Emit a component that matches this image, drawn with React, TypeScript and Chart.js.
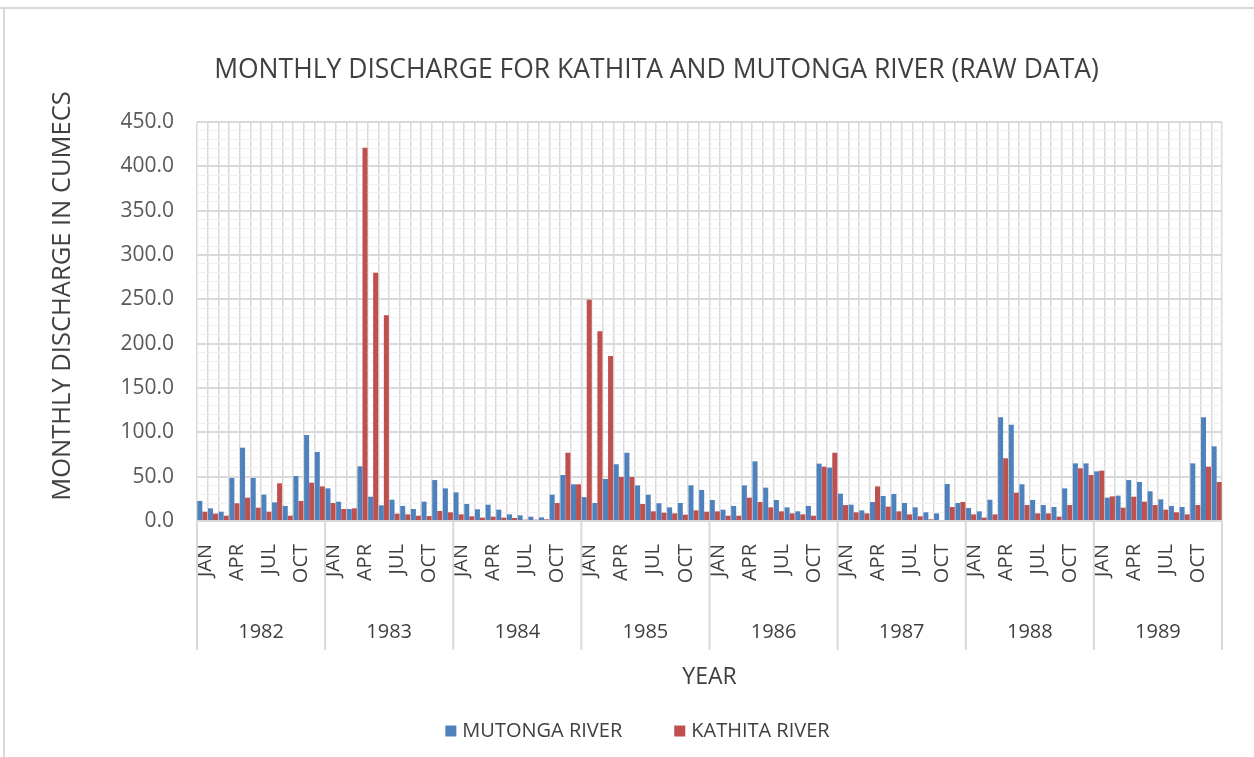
import { useEffect, useRef } from 'react';
import { Chart, registerables } from 'chart.js';

Chart.register(...registerables);

const TITLE = 'MONTHLY DISCHARGE FOR KATHITA AND MUTONGA RIVER (RAW DATA)';
const Y_TITLE = 'MONTHLY DISCHARGE IN CUMECS';
const X_TITLE = 'YEAR';
const YEARS = ['1982', '1983', '1984', '1985', '1986', '1987', '1988', '1989'];
const MONTHS = ['JAN', 'FEB', 'MAR', 'APR', 'MAY', 'JUN', 'JUL', 'AUG', 'SEP', 'OCT', 'NOV', 'DEC'];
const SHOWN_MONTHS = ['JAN', 'APR', 'JUL', 'OCT'];
const SERIES_NAMES = ['MUTONGA RIVER', 'KATHITA RIVER'];
const SERIES_COLORS = ['#4F81BD', '#C0504D'];

const MUTONGA = [
  22.6, 14.3, 10.5, 48.5, 82.7, 48.5, 29.7, 21.0, 17.0, 50.8, 97.0, 77.8,
  36.8, 21.8, 13.5, 61.7, 27.4, 17.7, 24.0, 17.0, 13.5, 21.8, 46.2, 36.8,
  32.3, 19.2, 13.2, 18.4, 12.8, 7.5, 6.4, 4.9, 4.1, 29.7, 51.9, 41.4,
  27.0, 20.3, 47.4, 64.0, 77.0, 40.2, 29.7, 20.0, 15.4, 20.3, 40.2, 35.0,
  23.7, 12.8, 17.0, 40.2, 67.3, 37.6, 23.7, 15.4, 10.9, 17.0, 64.7, 60.2,
  30.8, 18.4, 12.0, 21.4, 28.2, 30.5, 20.3, 15.4, 9.8, 8.6, 41.7, 20.3,
  14.7, 10.9, 24.0, 117.0, 108.6, 41.4, 23.7, 18.0, 15.8, 36.8, 65.0, 65.0,
  56.0, 26.3, 28.6, 46.2, 44.0, 33.5, 24.4, 17.0, 15.8, 65.0, 117.0, 84.2,
];

const KATHITA = [
  10.5, 8.3, 6.0, 20.0, 26.3, 15.0, 10.5, 42.5, 6.0, 22.6, 43.2, 39.0,
  20.3, 13.5, 14.3, 421.0, 280.0, 232.0, 8.3, 7.5, 6.0, 5.6, 11.3, 9.8,
  7.5, 5.3, 3.8, 4.9, 3.8, 3.4, 1.5, 1.5, 1.9, 20.3, 77.0, 41.4,
  249.5, 214.0, 186.0, 49.6, 49.6, 19.2, 10.9, 9.4, 8.6, 7.1, 12.0, 10.5,
  10.9, 6.0, 6.0, 26.3, 21.4, 15.4, 10.9, 8.6, 7.5, 6.0, 61.3, 77.0,
  18.0, 9.8, 8.6, 39.0, 16.2, 10.9, 7.5, 5.3, 1.9, 0.0, 15.8, 21.4,
  7.5, 3.8, 7.5, 70.7, 32.0, 18.0, 8.6, 8.6, 4.9, 18.0, 59.4, 51.9,
  56.8, 27.8, 15.0, 27.4, 21.8, 18.0, 12.8, 9.8, 7.5, 18.0, 61.3, 44.0,
];

const Y_MAX = 450;
const Y_MINOR_STEP = 10;
const Y_MAJOR_STEP = 50;

const FONT = "'Open Sans', sans-serif";
const TEXT_DARK = '#404040';
const TEXT = '#595959';
const GRID = '#d9d9d9';

const decorPlugin = {
  id: 'decor',
  beforeDraw(chart: any) {
    const { ctx, width, height } = chart;
    ctx.save();
    ctx.fillStyle = '#ffffff';
    ctx.fillRect(0, 0, width, height);
    ctx.strokeStyle = GRID;
    ctx.lineWidth = 2;
    ctx.beginPath();
    ctx.moveTo(0, 8);
    ctx.lineTo(width, 8);
    ctx.moveTo(4, 8);
    ctx.lineTo(4, height);
    ctx.stroke();
    ctx.restore();
  },
  afterDraw(chart: any) {
    const { ctx, chartArea } = chart;
    const xs = chart.scales.x;
    const half = (xs.getPixelForValue(1) - xs.getPixelForValue(0)) / 2;
    const base = chartArea.bottom;
    ctx.save();
    // chart title
    ctx.fillStyle = TEXT_DARK;
    ctx.font = `26.5px ${FONT}`;
    ctx.textAlign = 'center';
    ctx.textBaseline = 'middle';
    ctx.fillText(TITLE, 656.5, 70);
    // year separators
    ctx.strokeStyle = GRID;
    ctx.lineWidth = 2;
    ctx.beginPath();
    for (let k = 0; k <= YEARS.length; k++) {
      const x = k < YEARS.length
        ? xs.getPixelForValue(k * 12) - half
        : xs.getPixelForValue(YEARS.length * 12 - 1) + half;
      ctx.moveTo(x, base);
      ctx.lineTo(x, base + 129);
    }
    ctx.stroke();
    // year labels
    ctx.fillStyle = TEXT_DARK;
    ctx.font = `20px ${FONT}`;
    YEARS.forEach((yr, k) => {
      const cx = (xs.getPixelForValue(k * 12) + xs.getPixelForValue(k * 12 + 11)) / 2;
      ctx.fillText(yr, cx, base + 111);
    });
    // y axis title
    ctx.save();
    ctx.translate(63, 296);
    ctx.rotate(-Math.PI / 2);
    ctx.font = `25.5px ${FONT}`;
    ctx.fillStyle = TEXT_DARK;
    ctx.fillText(Y_TITLE, 0, 0);
    ctx.restore();
    // legend
    ctx.font = `20px ${FONT}`;
    ctx.textAlign = 'left';
    const box = 11;
    const gapText = 6;
    const gapItem = 52;
    const widths = SERIES_NAMES.map((n) => ctx.measureText(n).width);
    const total = widths.reduce((a, w) => a + box + gapText + w, 0) + gapItem * (SERIES_NAMES.length - 1);
    let x = 637.5 - total / 2;
    const ly = 731;
    SERIES_NAMES.forEach((n, i) => {
      ctx.fillStyle = SERIES_COLORS[i];
      ctx.fillRect(x, ly - box / 2, box, box);
      ctx.fillStyle = TEXT_DARK;
      ctx.fillText(n, x + box + gapText, ly);
      x += box + gapText + widths[i] + gapItem;
    });
    ctx.restore();
  },
};

export default function App() {
  const ref = useRef<HTMLCanvasElement | null>(null);

  useEffect(() => {
    document.body.style.margin = '0';
    const canvas = ref.current;
    if (!canvas) return;
    Chart.defaults.font.family = FONT;
    const labels = YEARS.flatMap(() => MONTHS);
    const chart = new Chart(canvas, {
      type: 'bar',
      data: {
        labels,
        datasets: [
          {
            label: SERIES_NAMES[0],
            data: MUTONGA,
            backgroundColor: SERIES_COLORS[0],
            categoryPercentage: 0.94,
            barPercentage: 1.0,
          },
          {
            label: SERIES_NAMES[1],
            data: KATHITA,
            backgroundColor: SERIES_COLORS[1],
            categoryPercentage: 0.94,
            barPercentage: 1.0,
          },
        ],
      },
      options: {
        animation: false,
        responsive: false,
        maintainAspectRatio: false,
        layout: { padding: { left: 0, right: 32, top: 122, bottom: 40 } },
        plugins: {
          legend: { display: false },
          tooltip: { enabled: false },
          title: { display: false },
        },
        scales: {
          x: {
            type: 'category',
            offset: true,
            grid: { display: true, color: GRID, lineWidth: 1.5, offset: true, drawTicks: false },
            border: { display: true, color: GRID, width: 2 },
            ticks: {
              autoSkip: false,
              minRotation: 90,
              maxRotation: 90,
              padding: 23,
              labelOffset: 3,
              color: TEXT_DARK,
              font: { family: FONT, size: 20 },
              callback: (_v: any, index: number) => {
                const m = MONTHS[index % 12];
                return SHOWN_MONTHS.includes(m) ? m : '';
              },
            },
            title: {
              display: true,
              text: X_TITLE,
              color: TEXT_DARK,
              font: { family: FONT, size: 23 },
              padding: { top: 0, bottom: 26 },
            },
            afterFit: (scale: any) => {
              scale.height = 196;
              scale.paddingLeft = 0;
              scale.paddingRight = 0;
            },
          },
          y: {
            type: 'linear',
            min: 0,
            max: Y_MAX,
            grid: {
              drawTicks: false,
              color: (c: any) => (c.tick && c.tick.value % Y_MAJOR_STEP === 0 ? GRID : '#f0f0f0'),
              lineWidth: (c: any) => (c.tick && c.tick.value % Y_MAJOR_STEP === 0 ? 2 : 1),
            },
            border: { display: false },
            ticks: {
              stepSize: Y_MINOR_STEP,
              autoSkip: false,
              padding: 23,
              color: TEXT,
              font: { family: FONT, size: 21 },
              callback: (v: any) => (Number(v) % Y_MAJOR_STEP === 0 ? Number(v).toFixed(1) : ''),
            },
            afterFit: (scale: any) => {
              scale.width = 197;
            },
          },
        },
      },
      plugins: [decorPlugin],
    } as any);
    return () => chart.destroy();
  }, []);

  return (
    <div style={{ width: 1254, height: 757 }}>
      <canvas ref={ref} width={1254} height={757} style={{ display: 'block', width: 1254, height: 757 }} />
    </div>
  );
}
